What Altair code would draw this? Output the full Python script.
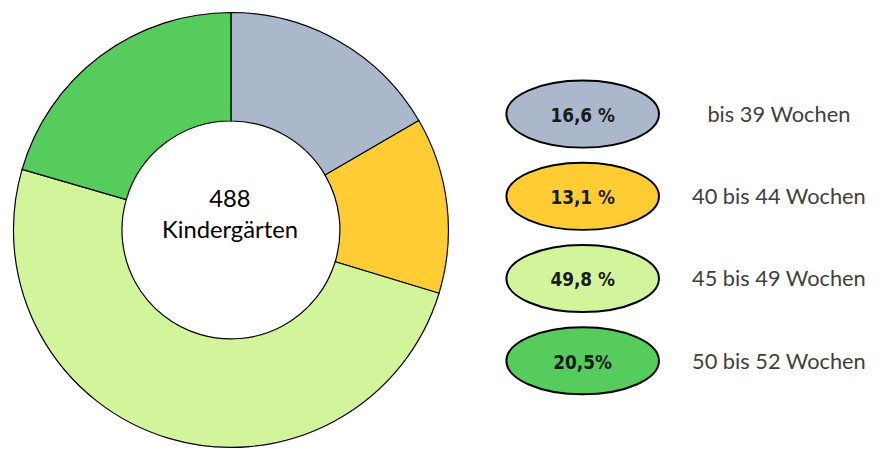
import altair as alt
import pandas as pd

# Data
categories = ["bis 39 Wochen", "40 bis 44 Wochen", "45 bis 49 Wochen", "50 bis 52 Wochen"]
shares = [16.6, 13.1, 49.8, 20.5]
share_labels = ["16,6 %", "13,1 %", "49,8 %", "20,5%"]
colors = ["#ABB8CB", "#FFCC33", "#D2F59B", "#55CC5B"]
center_text = ["488", "Kindergärten"]

df = pd.DataFrame({
    "cat": categories,
    "share": shares,
    "label": share_labels,
    "order": list(range(len(categories))),
})

W, H = 872, 441
cx, cy = 225, 222

color_scale = alt.Scale(domain=categories, range=colors)

donut = alt.Chart(df).mark_arc(
    outerRadius=219.5, innerRadius=110, stroke="black", strokeWidth=1.2
).encode(
    theta=alt.Theta("share:Q", stack=True),
    color=alt.Color("cat:N", scale=color_scale, legend=None),
    order=alt.Order("order:Q"),
    x=alt.value(cx),
    y=alt.value(cy),
)

center = alt.Chart(pd.DataFrame({"t": [center_text]})).mark_text(
    font="Lato", fontSize=24, color="black", align="center",
    baseline="alphabetic", lineHeight=31
).encode(
    text="t",
    x=alt.value(cx - 1),
    y=alt.value(199),
)

# ellipse shape path (unit width), built from cubic beziers
r = 0.44
k = 0.5523
ell = (f"M -1 0 C -1 {-k*r:.4f} {-k:.4f} {-r} 0 {-r} "
       f"C {k:.4f} {-r} 1 {-k*r:.4f} 1 0 "
       f"C 1 {k*r:.4f} {k:.4f} {r} 0 {r} "
       f"C {-k:.4f} {r} -1 {k*r:.4f} -1 0 Z")

yscale = alt.Scale(domain=categories, range=[105, 354], type="point", padding=0)

ex = 580

ellipses = alt.Chart(df).mark_point(
    shape=ell, filled=True, size=154 * 154, stroke="black", strokeWidth=2, opacity=1
).encode(
    x=alt.value(ex),
    y=alt.Y("cat:N", scale=yscale, axis=None),
    fill=alt.Fill("cat:N", scale=color_scale, legend=None),
)

ell_text = alt.Chart(df).mark_text(
    font="Liberation Sans Narrow, DejaVu Sans Condensed, Liberation Sans, sans-serif",
    fontWeight="bold", fontSize=19, color="#1a1a1a",
    align="center", baseline="middle", dy=2
).encode(
    x=alt.value(ex),
    y=alt.Y("cat:N", scale=yscale, axis=None),
    text="label:N",
)

cat_text = alt.Chart(df).mark_text(
    font="Lato", fontSize=22, color="#404040", align="center", baseline="middle", dy=1
).encode(
    x=alt.value(778),
    y=alt.Y("cat:N", scale=yscale, axis=None),
    text="cat:N",
)

chart = alt.layer(donut, center, ellipses, ell_text, cat_text).properties(
    width=W, height=H, padding=0, autosize="none"
).configure_view(stroke=None).resolve_scale(y="shared")

chart.save("out.html", embed_options={"renderer": "svg", "actions": False})
